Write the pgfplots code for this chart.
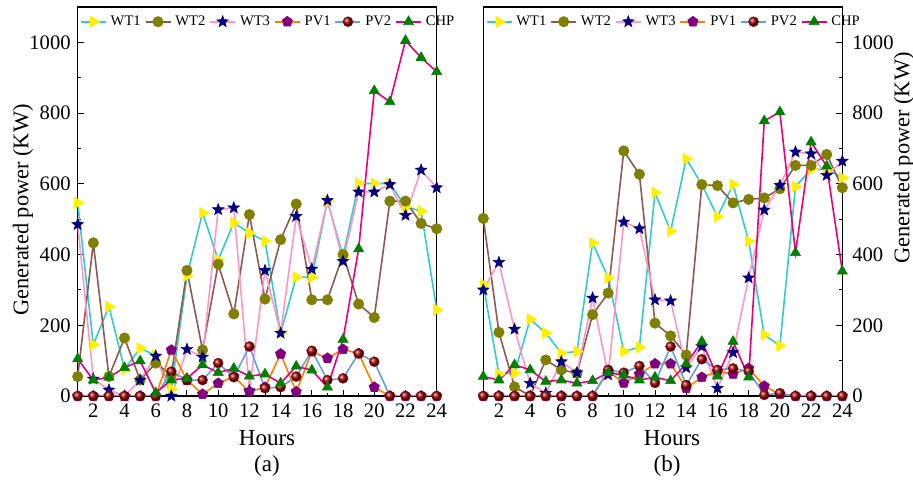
\documentclass[border=0pt]{standalone}
\usepackage{fontspec}
\setmainfont{Liberation Serif}
\usepackage{pgfplots}
\usepackage{pgfplotstable}
\pgfplotsset{compat=1.18}
\usetikzlibrary{plotmarks}

% line colours
\definecolor{cWTa}{RGB}{51,204,204}
\definecolor{cWTb}{RGB}{140,90,80}
\definecolor{cWTc}{RGB}{255,150,200}
\definecolor{cPVa}{RGB}{255,128,0}
\definecolor{cPVb}{RGB}{100,160,220}
\definecolor{cCHP}{RGB}{230,0,130}
% marker colours
\definecolor{mYel}{RGB}{255,240,0}
\definecolor{mOli}{RGB}{128,128,0}
\definecolor{mNav}{RGB}{0,0,128}
\definecolor{mPur}{RGB}{128,0,128}
\definecolor{mRed}{RGB}{150,0,0}
\definecolor{mGrn}{RGB}{0,128,0}

% filled five-pointed star
\pgfdeclareplotmark{fstar}{%
  \pgfpathmoveto{\pgfpointpolar{90}{\pgfplotmarksize}}%
  \pgfpathlineto{\pgfpointpolar{126}{0.42\pgfplotmarksize}}%
  \pgfpathlineto{\pgfpointpolar{162}{\pgfplotmarksize}}%
  \pgfpathlineto{\pgfpointpolar{198}{0.42\pgfplotmarksize}}%
  \pgfpathlineto{\pgfpointpolar{234}{\pgfplotmarksize}}%
  \pgfpathlineto{\pgfpointpolar{270}{0.42\pgfplotmarksize}}%
  \pgfpathlineto{\pgfpointpolar{306}{\pgfplotmarksize}}%
  \pgfpathlineto{\pgfpointpolar{342}{0.42\pgfplotmarksize}}%
  \pgfpathlineto{\pgfpointpolar{18}{\pgfplotmarksize}}%
  \pgfpathlineto{\pgfpointpolar{54}{0.42\pgfplotmarksize}}%
  \pgfpathclose
  \pgfusepathqfillstroke}

% case (a)
\pgfplotstableread{
h WT1 WT2 WT3 PV1 PV2 CHP
1 546 55 485 0 0 105
2 145 433 48 0 0 45
3 253 55 17 0 0 53
4 75 164 0 0 0 80
5 135 45 45 0 0 99
6 115 93 113 0 0 9
7 20 60 0 130 69 45
8 340 355 132 45 45 50
9 518 130 110 5 45 88
10 385 373 527 36 93 66
11 490 232 532 55 53 78
12 461 513 15 12 140 56
13 438 274 355 25 22 62
14 178 442 178 119 25 36
15 336 543 508 12 55 84
16 336 272 359 125 128 73
17 551 272 553 107 45 25
18 395 400 381 132 50 160
19 601 260 577 120 120 416
20 601 222 577 25 97 863
21 601 551 598 0 0 832
22 535 551 511 0 0 1005
23 523 488 639 0 0 957
24 244 473 589 0 0 917
}\dataA

% case (b)
\pgfplotstableread{
h WT1 WT2 WT3 PV1 PV2 CHP
1 315 502 300 0 0 55
2 62 180 378 0 0 45
3 65 26 189 0 0 88
4 217 0 36 0 0 74
5 178 102 8 0 0 41
6 121 74 97 0 0 45
7 126 64 66 0 0 36
8 433 230 277 0 0 43
9 334 291 60 69 74 66
10 126 693 492 37 66 59
11 138 627 473 62 85 45
12 575 206 272 91 37 53
13 466 170 269 91 140 43
14 671 116 80 22 31 91
15 598 598 140 53 104 154
16 507 595 22 69 74 56
17 598 546 123 62 78 154
18 438 556 334 78 70 53
19 173 560 526 28 3 778
20 142 586 596 5 8 803
21 592 652 690 0 0 405
22 641 652 685 0 0 718
23 641 683 624 0 0 650
24 617 589 664 0 0 353
}\dataB

\pgfplotsset{
  panel/.style={
    scale only axis, width=179.5pt, height=194.5pt,
    xmin=1, xmax=24, ymin=0, ymax=1100,
    xtick={2,4,...,24}, ytick={0,200,...,1000},
    minor x tick num=1, minor y tick num=1,
    tick align=inside, major tick length=3pt, minor tick length=1.6pt,
    xtick pos=bottom,
    axis line style={line width=0.6pt},
    tick style={line width=0.5pt, black},
    tick label style={font=\fontsize{10.3}{12}\selectfont},
    xticklabel style={yshift=-0.5pt},
    /pgf/number format/assume math mode=true,
    /pgf/number format/1000 sep={},
    legend columns=-1,
    legend style={at={(0,1)}, anchor=north west, draw=none, fill=none,
      font=\fontsize{7.3}{8}\selectfont, inner xsep=1pt, inner ysep=2pt,
      /tikz/every even column/.append style={column sep=0pt}},
    legend image code/.code={%
      \draw[mark repeat=2,mark phase=2] plot coordinates {(0cm,0cm) (0.22cm,0cm) (0.44cm,0cm)};},
    every axis plot/.append style={line width=0.8pt},
  },
  sWT1/.style={cWTa, mark=triangle*, mark size=3.2pt, mark options={rotate=-90, fill=mYel, draw=mYel, line width=0.3pt}},
  sWT2/.style={cWTb, mark=*, mark size=2.6pt, mark options={fill=mOli, draw=mOli, line width=0.3pt}},
  sWT3/.style={cWTc, mark=fstar, mark size=3pt, mark options={fill=mNav, draw=mNav, line width=0.3pt}},
  sPV1/.style={cPVa, mark=pentagon*, mark size=2.7pt, mark options={fill=mPur, draw=mPur, line width=0.3pt}},
  sPV2/.style={cPVb, mark=ball, mark size=2.5pt, mark options={ball color=mRed, draw=mRed, line width=0.2pt}},
  sCHP/.style={cCHP, mark=triangle*, mark size=2.9pt, mark options={fill=mGrn, draw=mGrn, line width=0.3pt}},
}

\begin{document}
\begin{tikzpicture}
\path[use as bounding box] (0,0) rectangle (456.5pt,242.5pt);

\begin{axis}[panel, at={(38.85pt,44.5pt)}, anchor=south west,
  ytick pos=left]
  \addplot[sWT1] table[x=h, y=WT1] {\dataA};
  \addplot[sWT2] table[x=h, y=WT2] {\dataA};
  \addplot[sWT3] table[x=h, y=WT3] {\dataA};
  \addplot[sPV1] table[x=h, y=PV1] {\dataA};
  \addplot[sPV2] table[x=h, y=PV2] {\dataA};
  \addplot[sCHP] table[x=h, y=CHP] {\dataA};
  \legend{WT1,WT2,WT3,PV1,PV2,CHP}
\end{axis}

\begin{axis}[panel, at={(241.65pt,44.5pt)}, anchor=south west,
  ytick pos=right, yticklabel pos=right,
  yticklabel style={xshift=1.5pt}]
  \addplot[sWT1] table[x=h, y=WT1] {\dataB};
  \addplot[sWT2] table[x=h, y=WT2] {\dataB};
  \addplot[sWT3] table[x=h, y=WT3] {\dataB};
  \addplot[sPV1] table[x=h, y=PV1] {\dataB};
  \addplot[sPV2] table[x=h, y=PV2] {\dataB};
  \addplot[sCHP] table[x=h, y=CHP] {\dataB};
  \legend{WT1,WT2,WT3,PV1,PV2,CHP}
\end{axis}

% axis titles and panel captions
\node[font=\fontsize{11.5}{13}\selectfont] at (133.5pt,23.5pt) {Hours};
\node[font=\fontsize{11.5}{13}\selectfont] at (133.5pt,9.5pt) {(a)};
\node[font=\fontsize{11.5}{13}\selectfont] at (336pt,23.5pt) {Hours};
\node[font=\fontsize{11.5}{13}\selectfont] at (333.5pt,9.5pt) {(b)};
\node[font=\fontsize{11.2}{13}\selectfont, rotate=90] at (11.5pt,137.5pt) {Generated power (KW)};
\node[font=\fontsize{11.2}{13}\selectfont, rotate=90] at (452pt,163.5pt) {Generated power (KW)};
\end{tikzpicture}
\end{document}
